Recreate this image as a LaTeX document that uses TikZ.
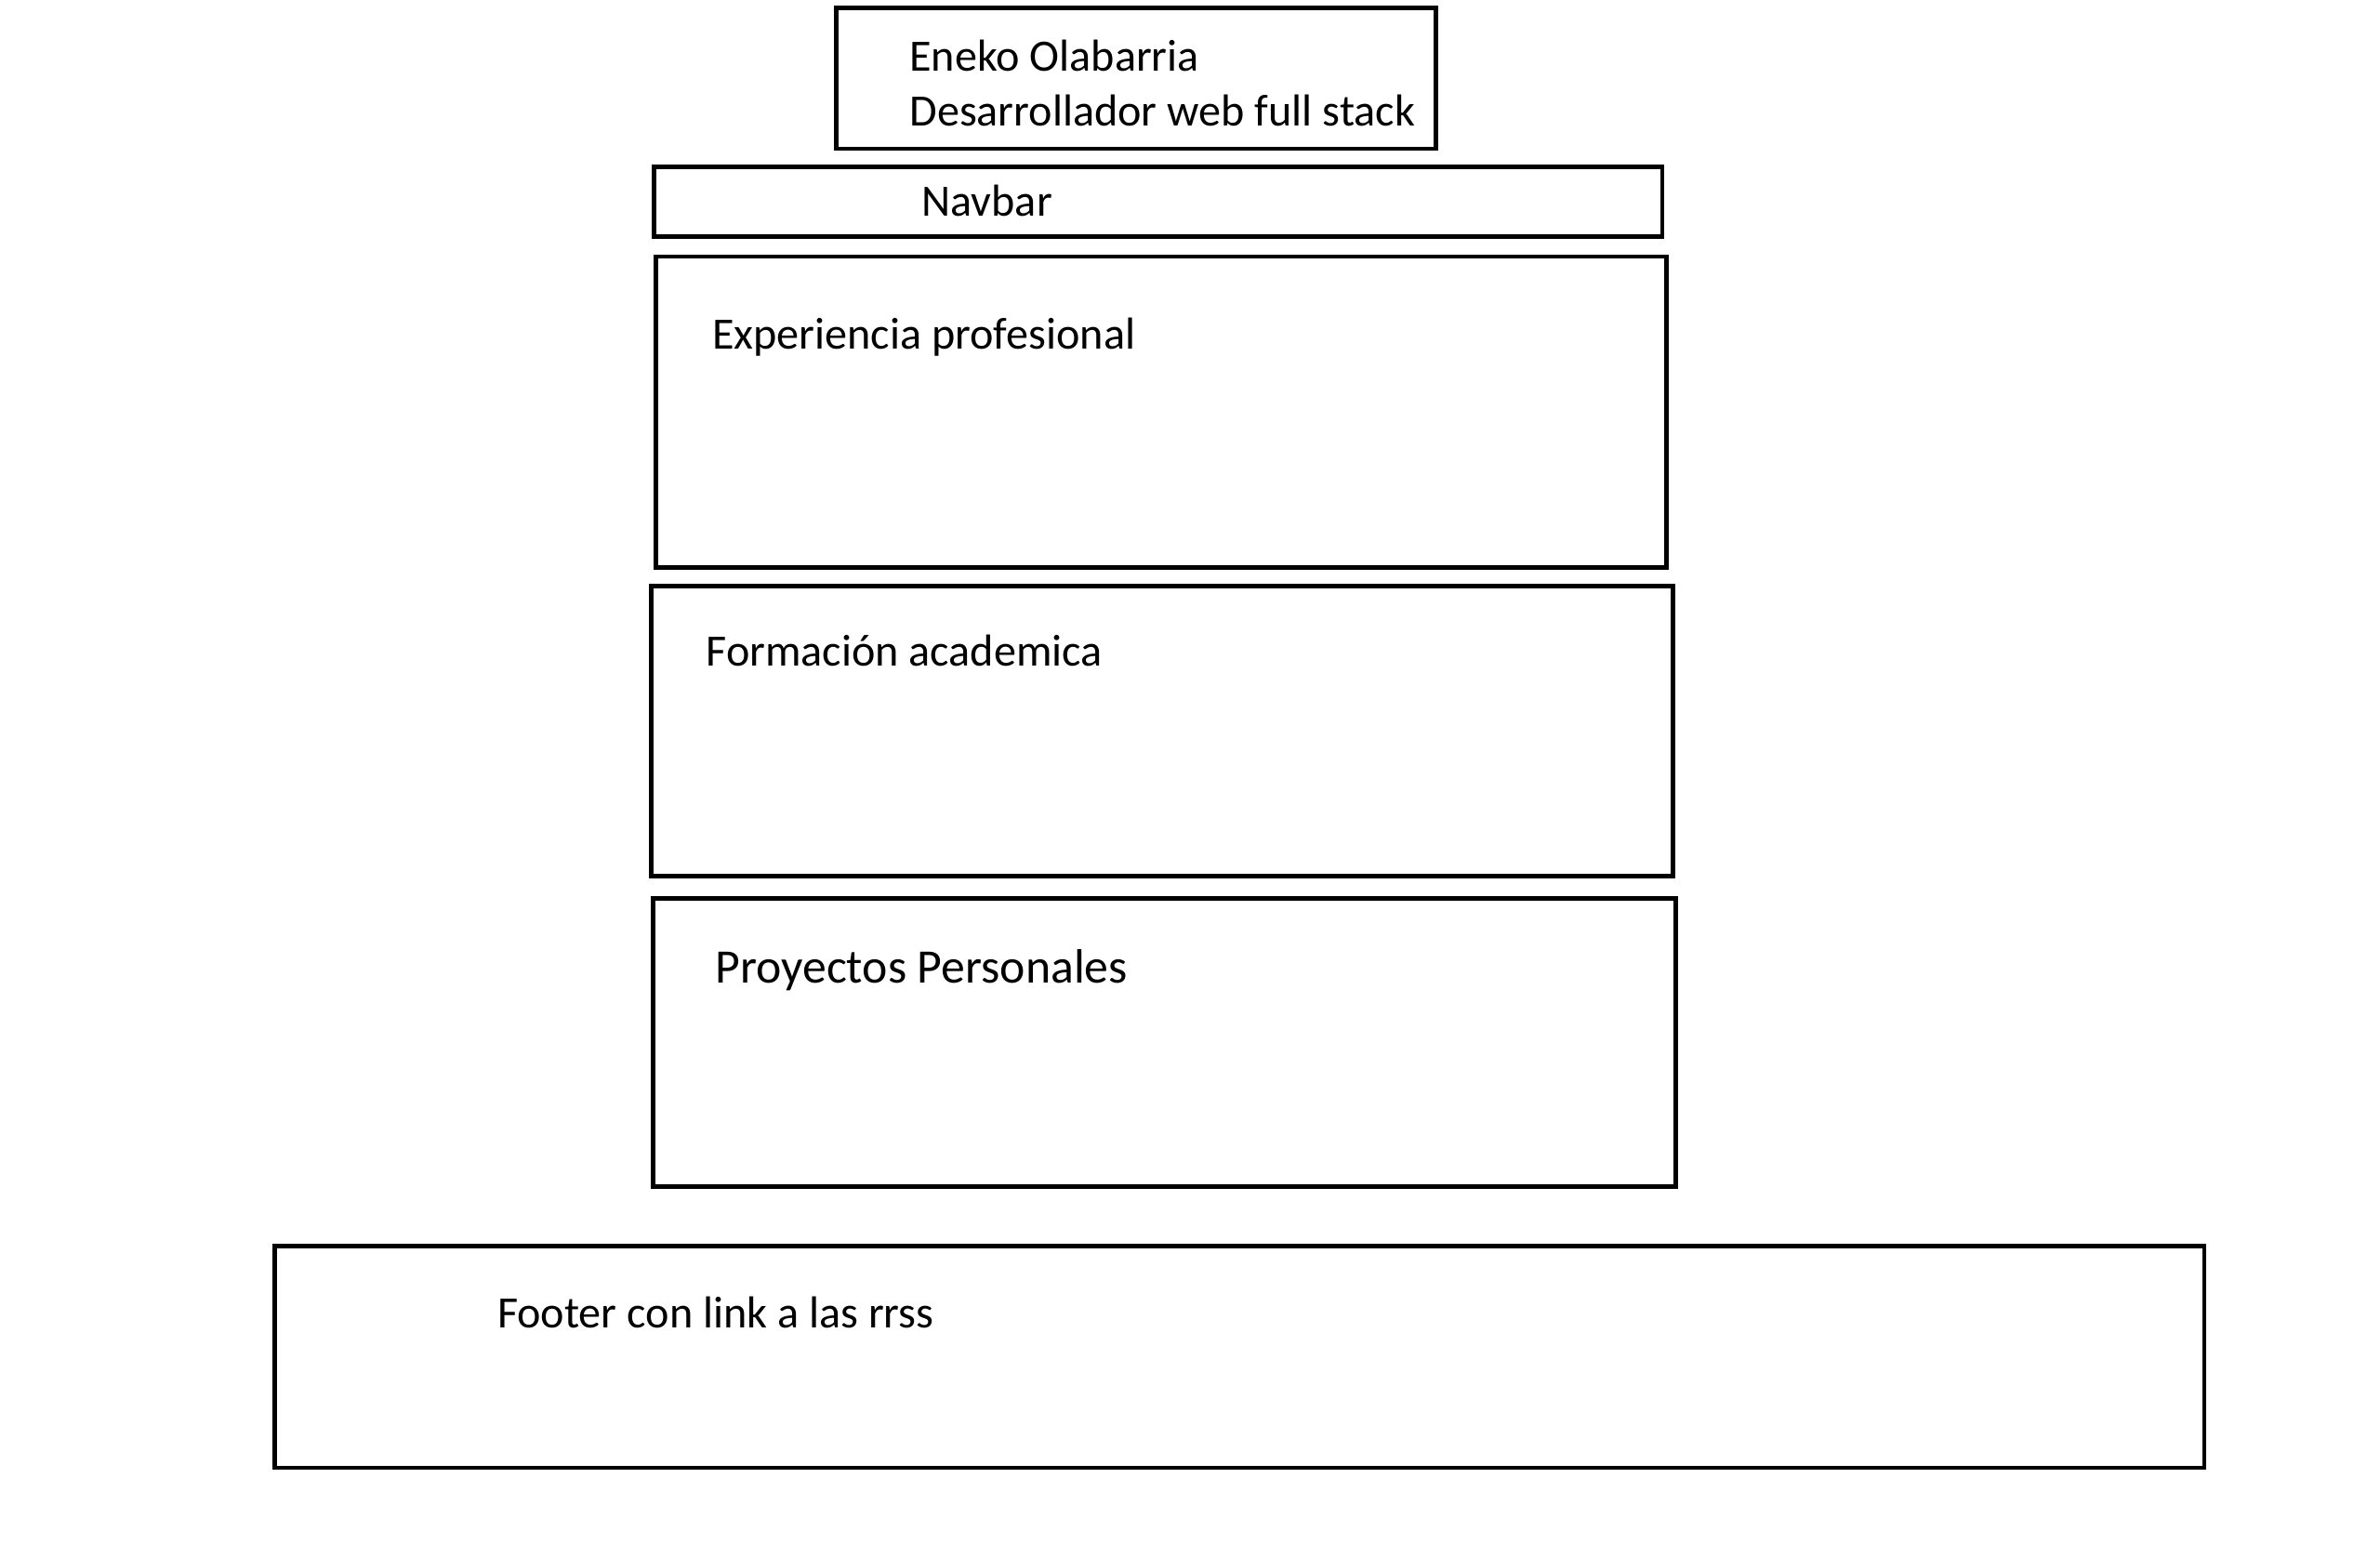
\documentclass[tikz,border=0pt]{standalone}
\usepackage{fontspec}
\setmainfont{Carlito}
\begin{document}
\begin{tikzpicture}[x=1pt,y=-1pt,
  box/.style={draw=black,line width=3pt,rectangle,inner sep=0pt},
  lbl/.style={anchor=base west,inner sep=0pt,font=\fontsize{29.5}{35}\selectfont},
  lblbig/.style={anchor=base west,inner sep=0pt,font=\fontsize{31.7}{37}\selectfont}]
\useasboundingbox (0,0) rectangle (1567.8,1016.7);
\fill[white] (0,0) rectangle (1567.8,1016.7);
% boxes
\node[box,minimum width=395pt,minimum height=93pt] (hdr) at (748.5,51.5) {};
\node[box,minimum width=664pt,minimum height=46pt] (nav) at (763,133) {};
\node[box,minimum width=666pt,minimum height=205pt] (exp) at (765,271.5) {};
\node[box,minimum width=673pt,minimum height=191pt] (form) at (765.5,481.5) {};
\node[box,minimum width=674pt,minimum height=190pt] (proy) at (767,687) {};
\node[box,minimum width=1271pt,minimum height=146pt] (foot) at (816.5,894) {};
% labels
\node[lbl] (t1) at (599,47) {Eneko Olabarria};
\node[lbl] (t2) at (599,83) {Desarrollador web full stack};
\node[lbl] (tnav) at (607,142.5) {Navbar};
\node[lbl] (texp) at (469,229.8) {Experiencia profesional};
\node[lbl] (tform) at (465,438.5) {Formación academica};
\node[lblbig] (tproy) at (471,647.5) {Proyectos Personales};
\node[lbl] (tfoot) at (327.5,875) {Footer con link a las rrss};
\end{tikzpicture}
\end{document}
